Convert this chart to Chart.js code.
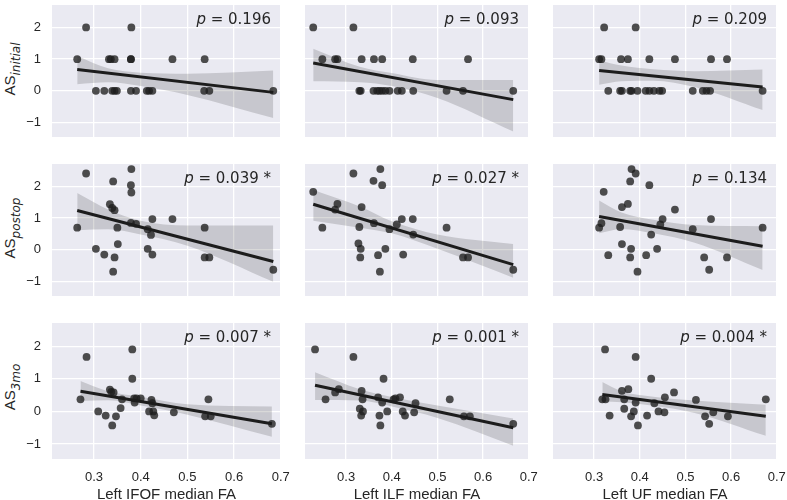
<!DOCTYPE html>
<html>
<head>
<meta charset="utf-8">
<script src="https://cdn.jsdelivr.net/npm/chart.js@4.4.1/dist/chart.umd.min.js"></script>
<style>
  body { margin: 0; background: #fff; }
  #wrap { position: relative; width: 787px; height: 500px; overflow: hidden; }
  canvas { position: absolute; }
  .ylab { position: absolute; transform: translate(-50%, -50%) rotate(-90deg); white-space: nowrap; color: #262626; }
  .ylab .big { font: 15px "Liberation Sans"; }
  .ylab sub { font: italic 12px "DejaVu Sans"; }
</style>
</head>
<body>
<div id="wrap"></div>
<script>
// rows: initial, postop, 3mo   cols: IFOF, ILF, UF
const xTitles = ["Left IFOF median FA", "Left ILF median FA", "Left UF median FA"];
const ySubs = ["initial", "postop", "3mo"];
const pValues = ["0.196", "0.093", "0.209", "0.039 *", "0.027 *", "0.134", "0.007 *", "0.001 *", "0.004 *"];
const xTicks = [0.3, 0.4, 0.5, 0.6, 0.7];
const yTicks = [-1, 0, 1, 2];

const ifofInitialX = [0.264, 0.283, 0.304, 0.322, 0.332, 0.336, 0.344, 0.339, 0.344, 0.349, 0.379, 0.379, 0.380, 0.379, 0.390, 0.413, 0.418, 0.425, 0.468, 0.537, 0.536, 0.547, 0.684];
const ifofInitialY = [1, 2, 0, 0, 1, 1, 1, 0, 0, 0, 1, 1, 2, 0, 0, 0, 0, 0, 1, 1, 0, 0, 0];
const ilfInitialX = [0.228, 0.316, 0.248, 0.276, 0.281, 0.334, 0.361, 0.379, 0.446, 0.567, 0.329, 0.332, 0.360, 0.368, 0.373, 0.379, 0.386, 0.395, 0.413, 0.422, 0.447, 0.520, 0.556, 0.666];
const ilfInitialY = [2, 2, 1, 1, 1, 1, 1, 1, 1, 1, 0, 0, 0, 0, 0, 0, 0, 0, 0, 0, 0, 0, 0, 0];
const ufInitialX = [0.322, 0.391, 0.311, 0.316, 0.359, 0.374, 0.421, 0.477, 0.556, 0.591, 0.331, 0.357, 0.361, 0.379, 0.382, 0.395, 0.413, 0.421, 0.431, 0.443, 0.449, 0.516, 0.538, 0.546, 0.554, 0.669];
const ufInitialY = [2, 2, 1, 1, 1, 1, 1, 1, 1, 1, 0, 0, 0, 0, 0, 0, 0, 0, 0, 0, 0, 0, 0, 0, 0, 0];

const ifofPostopX = [0.264, 0.283, 0.304, 0.322, 0.334, 0.339, 0.344, 0.341, 0.344, 0.341, 0.350, 0.351, 0.380, 0.379, 0.380, 0.379, 0.390, 0.415, 0.422, 0.425, 0.415, 0.425, 0.468, 0.537, 0.537, 0.547, 0.684];
const ifofPostopY = [0.70, 2.41, 0.03, -0.15, 1.44, 1.32, 1.25, 2.16, -0.24, -0.69, 0.70, 0.18, 2.55, 2.04, 1.81, 0.85, 0.82, 0.65, 0.47, 0.97, 0.03, -0.15, 0.97, 0.70, -0.24, -0.24, -0.63];
const ilfPostopX = [0.228, 0.248, 0.276, 0.281, 0.316, 0.329, 0.327, 0.332, 0.331, 0.334, 0.360, 0.361, 0.370, 0.375, 0.379, 0.374, 0.386, 0.395, 0.411, 0.422, 0.425, 0.446, 0.447, 0.520, 0.556, 0.567, 0.666];
const ilfPostopY = [1.83, 0.70, 1.27, 1.45, 2.41, 0.72, 0.20, 0.03, -0.24, 1.35, 2.18, 0.84, -0.17, 2.55, 2.04, -0.69, 0.03, 0.65, 0.80, 0.97, -0.15, 0.97, 0.48, 0.70, -0.24, -0.24, -0.63];
const ufPostopX = [0.311, 0.316, 0.321, 0.331, 0.357, 0.361, 0.374, 0.361, 0.379, 0.382, 0.391, 0.381, 0.379, 0.395, 0.414, 0.421, 0.425, 0.438, 0.445, 0.450, 0.477, 0.516, 0.541, 0.552, 0.556, 0.591, 0.669];
const ufPostopY = [0.70, 0.84, 1.83, -0.17, 0.72, 1.35, 1.45, 0.18, 2.16, 2.55, 2.41, 0.03, -0.24, -0.69, -0.17, 2.04, 0.48, 0.03, 0.80, 0.97, 1.27, 0.65, -0.24, -0.63, 0.97, -0.24, 0.70];

const ifof3moX = [0.271, 0.284, 0.309, 0.325, 0.334, 0.337, 0.342, 0.339, 0.347, 0.357, 0.360, 0.382, 0.382, 0.386, 0.387, 0.391, 0.400, 0.418, 0.423, 0.425, 0.427, 0.429, 0.471, 0.538, 0.545, 0.550, 0.681];
const ifof3moY = [0.37, 1.67, 0.00, -0.13, 0.67, 0.60, 0.58, -0.43, -0.15, 0.10, 0.37, 1.90, 1.00, 0.40, 0.27, 0.40, 0.40, 0.00, 0.35, 0.25, 0.00, -0.12, -0.03, -0.15, 0.37, -0.15, -0.38];
const ilf3moX = [0.232, 0.255, 0.276, 0.284, 0.316, 0.330, 0.334, 0.336, 0.333, 0.337, 0.370, 0.373, 0.375, 0.379, 0.382, 0.390, 0.404, 0.408, 0.418, 0.424, 0.429, 0.449, 0.452, 0.527, 0.558, 0.571, 0.666];
const ilf3moY = [1.90, 0.37, 0.58, 0.68, 1.67, 0.08, 0.63, 0.37, -0.13, 0.00, 0.43, -0.13, -0.43, 0.27, 1.00, 0.00, 0.37, 0.40, 0.43, 0.00, -0.13, -0.03, 0.25, 0.37, -0.15, -0.15, -0.38];
const uf3moX = [0.318, 0.325, 0.324, 0.334, 0.361, 0.366, 0.366, 0.375, 0.381, 0.387, 0.391, 0.391, 0.396, 0.416, 0.425, 0.432, 0.441, 0.454, 0.455, 0.475, 0.523, 0.543, 0.552, 0.561, 0.593, 0.676];
const uf3moY = [0.37, 0.37, 1.90, -0.13, 0.63, 0.37, 0.08, 0.68, -0.15, 0.00, 0.27, 1.67, -0.43, -0.13, 1.00, 0.25, 0.00, -0.03, 0.43, 0.58, 0.35, -0.15, -0.38, -0.03, -0.15, 0.37];

// regression line ends [x0, y0, x1, y1]
const fitLines = [
  [0.264, 0.67, 0.684, -0.05], [0.228, 0.88, 0.666, -0.28], [0.311, 0.64, 0.669, 0.12],
  [0.264, 1.24, 0.684, -0.37], [0.228, 1.44, 0.666, -0.47], [0.311, 1.05, 0.669, 0.11],
  [0.271, 0.62, 0.681, -0.38], [0.232, 0.80, 0.666, -0.50], [0.318, 0.52, 0.676, -0.15]
];
// confidence band edges
const bandX = [
  [0.264, 0.33, 0.40, 0.50, 0.684], [0.228, 0.33, 0.40, 0.50, 0.666], [0.311, 0.36, 0.43, 0.52, 0.669],
  [0.264, 0.33, 0.40, 0.50, 0.684], [0.228, 0.33, 0.40, 0.50, 0.666], [0.311, 0.36, 0.43, 0.52, 0.669],
  [0.271, 0.33, 0.40, 0.50, 0.681], [0.232, 0.33, 0.40, 0.50, 0.666], [0.318, 0.36, 0.43, 0.52, 0.676]
];
const bandHi = [
  [1.10, 0.71, 0.57, 0.54, 0.64], [1.33, 0.76, 0.56, 0.34, 0.34], [0.96, 0.80, 0.68, 0.62, 0.67],
  [1.79, 1.27, 0.92, 0.77, 0.77], [1.89, 1.37, 0.90, 0.48, 0.18], [1.56, 1.18, 0.95, 0.78, 0.74],
  [0.93, 0.62, 0.45, 0.22, 0.15], [1.20, 0.68, 0.44, 0.18, -0.22], [0.90, 0.62, 0.45, 0.33, 0.20]
];
const bandLo = [
  [0.21, 0.27, 0.15, -0.13, -0.86], [0.30, 0.27, 0.15, -0.23, -1.29], [0.19, 0.30, 0.32, 0.12, -0.61],
  [0.62, 0.65, 0.48, 0.13, -1.01], [0.92, 0.70, 0.52, 0.03, -0.88], [0.52, 0.66, 0.52, 0.22, -0.64],
  [0.32, 0.34, 0.18, -0.10, -0.78], [0.35, 0.33, 0.15, -0.20, -1.05], [0.30, 0.28, 0.17, -0.05, -0.75]
];

const pointsX = [ifofInitialX, ilfInitialX, ufInitialX, ifofPostopX, ilfPostopX, ufPostopX, ifof3moX, ilf3moX, uf3moX];
const pointsY = [ifofInitialY, ilfInitialY, ufInitialY, ifofPostopY, ilfPostopY, ufPostopY, ifof3moY, ilf3moY, uf3moY];

// panel geometry
const colLeft = [52, 301, 549];
const colW = [229, 228, 228];
const rowTop = [1, 160, 319];
const rowH = 140;
const yAxisW = 52;
const xAxisH = 41;
const padRight = 9;

Chart.defaults.font.family = "Liberation Sans";
Chart.defaults.color = "#262626";

const bgPlugin = {
  id: "darkgrid",
  beforeDraw(chart) {
    const a = chart.chartArea;
    const ctx = chart.ctx;
    ctx.save();
    ctx.fillStyle = "#EAEAF2";
    ctx.fillRect(a.left, a.top, a.right - a.left, a.bottom - a.top);
    ctx.restore();
  }
};

const pPlugin = {
  id: "pLabel",
  afterDatasetsDraw(chart, args, opts) {
    const a = chart.chartArea;
    const ctx = chart.ctx;
    ctx.save();
    ctx.fillStyle = "#262626";
    ctx.textBaseline = "middle";
    ctx.textAlign = "right";
    const rest = " = " + opts.text;
    ctx.font = '15px "DejaVu Sans"';
    const w = ctx.measureText(rest).width;
    const xr = a.right - 10;
    const y = a.top + 15;
    ctx.fillText(rest, xr, y);
    ctx.font = 'italic 15px "DejaVu Sans"';
    ctx.fillText("p", xr - w, y);
    ctx.restore();
  }
};

const wrap = document.getElementById("wrap");

for (let r = 0; r < 3; r++) {
  // y label
  const lab = document.createElement("div");
  lab.className = "ylab";
  lab.style.left = "12px";
  lab.style.top = (rowTop[r] + rowH / 2 - 2) + "px";
  lab.innerHTML = '<span class="big">AS</span><sub>' + ySubs[r] + "</sub>";
  wrap.appendChild(lab);

  for (let c = 0; c < 3; c++) {
    const k = r * 3 + c;
    const left = c === 0 ? 0 : colLeft[c];
    const w = (c === 0 ? yAxisW : 0) + colW[c] + padRight;
    const h = rowH + (r === 2 ? xAxisH : 0);
    const cv = document.createElement("canvas");
    cv.width = w;
    cv.height = h;
    cv.style.left = left + "px";
    cv.style.top = rowTop[r] + "px";
    cv.style.width = w + "px";
    cv.style.height = h + "px";
    wrap.appendChild(cv);

    const pts = pointsX[k].map((x, i) => ({ x: x, y: pointsY[k][i] }));
    const fl = fitLines[k];
    const hi = bandX[k].map((x, i) => ({ x: x, y: bandHi[k][i] }));
    const lo = bandX[k].map((x, i) => ({ x: x, y: bandLo[k][i] }));

    new Chart(cv.getContext("2d"), {
      type: "scatter",
      data: {
        datasets: [
          {
            type: "line",
            data: hi,
            borderWidth: 0,
            pointRadius: 0,
            fill: "+1",
            backgroundColor: "rgba(0,0,0,0.15)",
            cubicInterpolationMode: "monotone",
            order: 3
          },
          {
            type: "line",
            data: lo,
            borderWidth: 0,
            pointRadius: 0,
            fill: false,
            cubicInterpolationMode: "monotone",
            order: 3
          },
          {
            data: pts,
            pointRadius: 3.9,
            pointBorderWidth: 0,
            pointBackgroundColor: "rgba(30,30,30,0.78)",
            order: 2
          },
          {
            type: "line",
            data: [{ x: fl[0], y: fl[1] }, { x: fl[2], y: fl[3] }],
            borderColor: "#1c1c1c",
            borderWidth: 3,
            pointRadius: 0,
            fill: false,
            order: 1
          }
        ]
      },
      options: {
        responsive: false,
        animation: false,
        devicePixelRatio: 1,
        layout: { padding: { left: 0, right: padRight, top: 0, bottom: 0 } },
        plugins: {
          legend: { display: false },
          tooltip: { enabled: false },
          pLabel: { text: pValues[k] }
        },
        scales: {
          x: {
            type: "linear",
            min: 0.21,
            max: 0.7005,
            afterBuildTicks: (s) => { s.ticks = xTicks.map(v => ({ value: v })); },
            afterFit: (s) => { s.height = r === 2 ? xAxisH : 0; s.paddingLeft = 0; s.paddingRight = 0; },
            grid: { color: "#ffffff", lineWidth: 1.3, drawTicks: false },
            border: { display: false },
            ticks: {
              display: r === 2,
              font: { size: 13 },
              color: "#262626",
              padding: 11,
              maxRotation: 0,
              autoSkip: false,
              callback: (v) => v.toFixed(1)
            },
            title: {
              display: r === 2,
              text: xTitles[c],
              font: { size: 15, lineHeight: 1 },
              color: "#262626",
              padding: { top: 0, bottom: -2 }
            }
          },
          y: {
            type: "linear",
            min: -1.46,
            max: 2.71,
            afterBuildTicks: (s) => { s.ticks = yTicks.map(v => ({ value: v })); },
            afterFit: (s) => { s.width = c === 0 ? yAxisW : 0; s.paddingTop = 0; s.paddingBottom = 0; },
            grid: { color: "#ffffff", lineWidth: 1.3, drawTicks: false },
            border: { display: false },
            ticks: {
              display: c === 0,
              font: { size: 13 },
              color: "#262626",
              padding: 11,
              callback: (v) => (v < 0 ? "\u2212" + Math.abs(v) : String(v))
            }
          }
        }
      },
      plugins: [bgPlugin, pPlugin]
    });
  }
}
</script>
</body>
</html>
